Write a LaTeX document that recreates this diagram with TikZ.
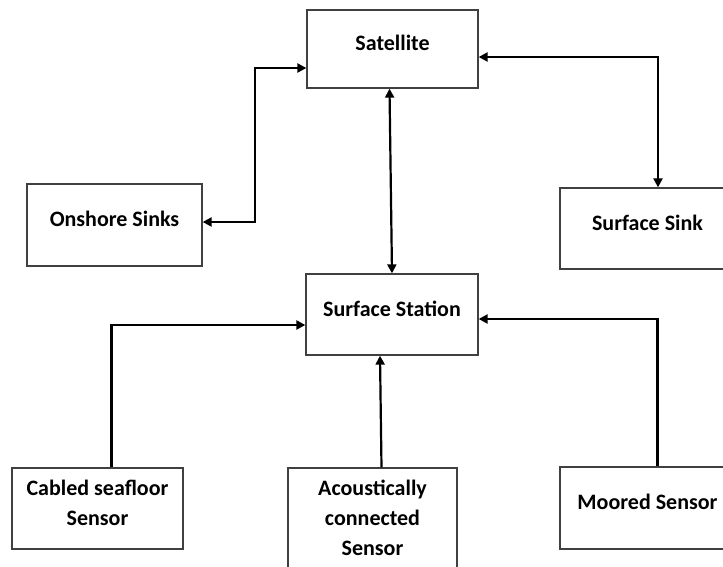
\documentclass[tikz,border=0pt]{standalone}
\usepackage{fontspec}
\setmainfont{Carlito}
\usetikzlibrary{arrows.meta}
\begin{document}
\begin{tikzpicture}[x=1pt,y=-1pt,
  box/.style={draw=black!75,line width=1.3pt,fill=white,inner sep=0pt,
    label={[align=center,yshift=6pt,font=\fontsize{22}{30}\selectfont\bfseries]center:#1}},
  conn/.style={line width=2.2pt,black},
  tip/.tip={Triangle[length=9pt,width=9pt]}]
\useasboundingbox (0,0) rectangle (723,566);
\clip (0,0) rectangle (723,566);
\fill[white] (0,0) rectangle (723,566);
\node[box=Satellite,minimum width=171pt,minimum height=78pt] (sat) at (392.5,49) {};
\node[box=Onshore Sinks,minimum width=175pt,minimum height=82pt] (onshore) at (114.5,225) {};
\node[box=Surface Sink,minimum width=175pt,minimum height=81pt] (ssink) at (647.5,228.5) {};
\node[box=Surface Station,minimum width=172pt,minimum height=81pt] (station) at (392,314.5) {};
\node[box={Cabled seafloor\\Sensor},minimum width=171pt,minimum height=81pt] (cabled) at (97.5,508.5) {};
\node[box={Acoustically\\connected\\Sensor},minimum width=169pt,minimum height=112pt] (acoustic) at (372.5,524) {};
\node[box=Moored Sensor,minimum width=175pt,minimum height=82pt] (moored) at (647.5,508) {};
% connectors
\draw[conn,tip-tip] ([yshift=3pt]onshore.east) -- ++(52,0) |- ([yshift=-19pt]sat.west);
\draw[conn,tip-tip] ([yshift=-8pt]sat.east) -| ([xshift=10.5pt]ssink.north);
\draw[conn,tip-tip] ([xshift=-3pt]sat.south) -- (station.north);
\draw[conn,-tip] ([xshift=14pt]cabled.north) |- ([yshift=-10.5pt]station.west);
\draw[conn,-tip] ([xshift=9pt]acoustic.north) -- ([xshift=-12pt]station.south);
\draw[conn,-tip] ([xshift=10pt]moored.north) |- ([yshift=-4.5pt]station.east);
\end{tikzpicture}
\end{document}
